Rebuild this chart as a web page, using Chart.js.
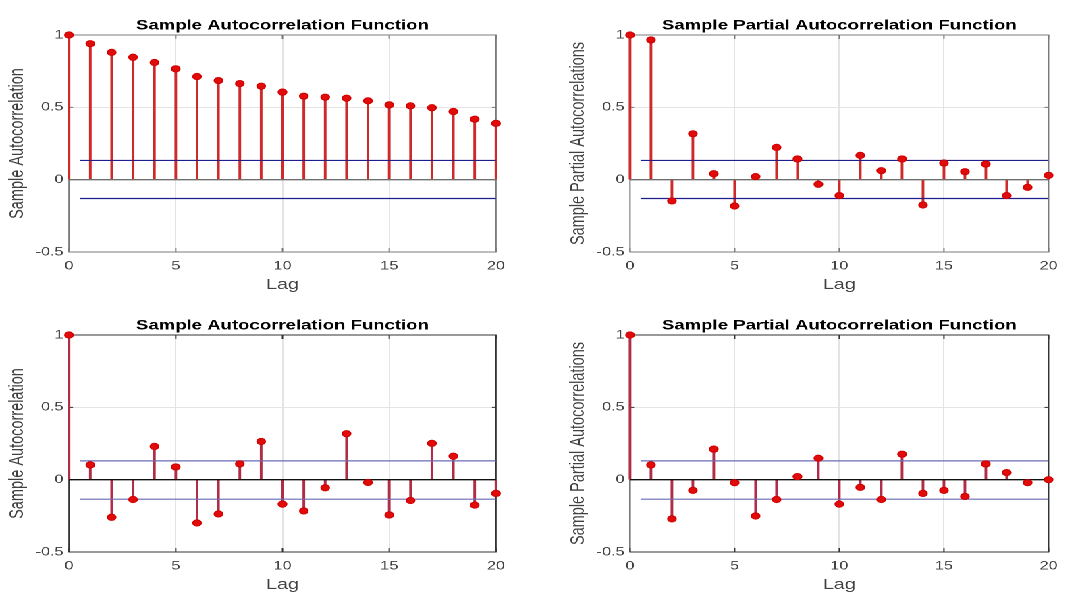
<!DOCTYPE html>
<html>

<head>
  <title>Sample ACF / PACF</title>
  <script src="https://cdn.jsdelivr.net/npm/chart.js"></script>
  <style>
    body { margin: 0; background: #fff; overflow: hidden; }
    /* the reference figure is stretched sideways, so draw narrow and scale the whole figure in x */
    #fig { position: absolute; left: 0; top: 0; width: 790px; height: 600px; transform: scaleX(1.35); transform-origin: 0 0; }
    .panel { position: absolute; height: 296px; }
  </style>
</head>

<body>
  <div id="fig">
    <div class="panel" style="left:0;top:0;width:395px"><canvas id="acf1"></canvas></div>
    <div class="panel" style="left:395px;top:0;width:395.4px"><canvas id="pacf1"></canvas></div>
    <div class="panel" style="left:0;top:300px;width:395px"><canvas id="acf2"></canvas></div>
    <div class="panel" style="left:395px;top:300px;width:395.4px"><canvas id="pacf2"></canvas></div>
  </div>
  <script>
    // data
    var lags = [0, 1, 2, 3, 4, 5, 6, 7, 8, 9, 10, 11, 12, 13, 14, 15, 16, 17, 18, 19, 20];
    var acf1 = [1, 0.94, 0.88, 0.846, 0.81, 0.766, 0.713, 0.685, 0.664, 0.646, 0.605, 0.577, 0.57, 0.563, 0.545, 0.517, 0.51, 0.497, 0.471, 0.418, 0.389];
    var pacf1 = [1, 0.966, -0.147, 0.317, 0.041, -0.182, 0.021, 0.223, 0.143, -0.032, -0.11, 0.168, 0.062, 0.143, -0.175, 0.115, 0.055, 0.108, -0.11, -0.053, 0.03];
    var acf2 = [1, 0.102, -0.26, -0.137, 0.23, 0.088, -0.299, -0.237, 0.109, 0.264, -0.169, -0.216, -0.056, 0.318, -0.019, -0.244, -0.144, 0.251, 0.162, -0.176, -0.095];
    var pacf2 = [1, 0.102, -0.271, -0.074, 0.211, -0.021, -0.251, -0.137, 0.021, 0.148, -0.169, -0.053, -0.137, 0.176, -0.095, -0.074, -0.116, 0.109, 0.049, -0.021, 0];
    var boundLags = [0.5, 20];
    var bound1 = [0.133, -0.13];
    var bound2 = [0.13, -0.135];
    var xTicks = [0, 5, 10, 15, 20];
    var yTicks = [-0.5, 0, 0.5, 1];

    Chart.defaults.font.family = '"Liberation Sans", Arial, sans-serif';

    function pts(xs, ys) {
      return xs.map(function (x, i) { return { x: x, y: ys[i] }; });
    }

    // box round the plot with inward tick marks
    var boxPlugin = {
      id: 'box',
      beforeDatasetsDraw: function (chart, args, o) {
        var a = chart.chartArea, c = chart.ctx, sx = chart.scales.x, sy = chart.scales.y;
        c.save();
        c.strokeStyle = o.color;
        c.lineWidth = 1;
        c.strokeRect(a.left, a.top, a.right - a.left, a.bottom - a.top);
        c.beginPath();
        xTicks.forEach(function (t) {
          var px = sx.getPixelForValue(t);
          c.moveTo(px, a.bottom); c.lineTo(px, a.bottom - 4);
          c.moveTo(px, a.top); c.lineTo(px, a.top + 4);
        });
        yTicks.forEach(function (t) {
          var py = sy.getPixelForValue(t);
          c.moveTo(a.left, py); c.lineTo(a.left + 3, py);
          c.moveTo(a.right, py); c.lineTo(a.right - 3, py);
        });
        c.stroke();
        c.restore();
      }
    };

    function makeChart(id, title, yLabel, values, bound, st) {
      var zero = [0, 0];
      return new Chart(document.getElementById(id), {
        type: 'bar',
        data: {
          datasets: [{
            type: 'line',
            data: pts(lags, values),
            showLine: false,
            clip: false,
            pointStyle: 'circle',
            pointRadius: 3.1,
            pointBackgroundColor: '#e00c0c',
            pointBorderColor: '#d40000',
            pointBorderWidth: 1,
            order: 0
          }, {
            type: 'line',
            data: pts([0, 20], zero),
            borderColor: st.zero,
            borderWidth: 1.3,
            pointRadius: 0,
            order: 1
          }, {
            type: 'line',
            data: pts(boundLags, [bound[0], bound[0]]),
            borderColor: st.bound,
            borderWidth: 1.2,
            pointRadius: 0,
            order: 2
          }, {
            type: 'line',
            data: pts(boundLags, [bound[1], bound[1]]),
            borderColor: st.bound,
            borderWidth: 1.2,
            pointRadius: 0,
            order: 2
          }, {
            type: 'bar',
            data: pts(lags, values),
            backgroundColor: st.stem,
            barThickness: 1.3,
            clip: false,
            order: 3
          }]
        },
        options: {
          responsive: true,
          maintainAspectRatio: false,
          animation: false,
          devicePixelRatio: 2,
          layout: { padding: { left: 0, right: st.right, top: 0, bottom: 0 } },
          plugins: {
            legend: { display: false },
            tooltip: { enabled: false },
            title: {
              display: true,
              text: title,
              fullSize: false,
              color: '#000',
              font: { size: 13.75, weight: 'bold' },
              padding: { top: 17.5, bottom: 1 }
            },
            box: { color: st.box }
          },
          scales: {
            x: {
              type: 'linear',
              min: 0,
              max: 20,
              offset: false,
              afterBuildTicks: function (s) { s.ticks = xTicks.map(function (v) { return { value: v }; }); },
              afterFit: function (s) { s.height = 44; },
              grid: { color: '#e4e4e4', drawTicks: false, offset: false },
              border: { display: false },
              ticks: { padding: 7, color: '#404040', font: { size: 12 }, maxRotation: 0, autoSkip: false },
              title: { display: true, text: 'Lag', color: '#404040', font: { size: 14.5 }, padding: { top: 0, bottom: 2.3 } }
            },
            y: {
              type: 'linear',
              min: -0.5,
              max: 1,
              afterBuildTicks: function (s) { s.ticks = yTicks.map(function (v) { return { value: v }; }); },
              afterFit: function (s) { s.width = st.axisW; },
              grid: { color: '#e4e4e4', drawTicks: false },
              border: { display: false },
              ticks: { padding: 4, color: '#404040', font: { size: 12 }, callback: function (v) { return String(v); } },
              title: { display: true, text: yLabel, color: '#404040', font: { size: 14.5 }, padding: { top: st.labelPad, bottom: 0 } }
            }
          }
        },
        plugins: [boxPlugin]
      });
    }

    var topStyle = { stem: '#cf2a2a', bound: '#1e1e8a', zero: '#6e6e6e', box: '#7a7a7a' };
    var botStyle = { stem: '#b02c48', bound: '#6a6ab4', zero: '#111111', box: '#333333' };

    function style(base, left) {
      var s = Object.assign({}, base);
      s.axisW = left ? 51.1 : 71.7;
      s.right = left ? 27.6 : 7.4;
      s.labelPad = left ? 4.4 : 24.9;
      return s;
    }

    makeChart('acf1', 'Sample Autocorrelation Function', 'Sample Autocorrelation', acf1, bound1, style(topStyle, true));
    makeChart('pacf1', 'Sample Partial Autocorrelation Function', 'Sample Partial Autocorrelations', pacf1, bound1, style(topStyle, false));
    makeChart('acf2', 'Sample Autocorrelation Function', 'Sample Autocorrelation', acf2, bound2, style(botStyle, true));
    makeChart('pacf2', 'Sample Partial Autocorrelation Function', 'Sample Partial Autocorrelations', pacf2, bound2, style(botStyle, false));
  </script>
</body>

</html>
